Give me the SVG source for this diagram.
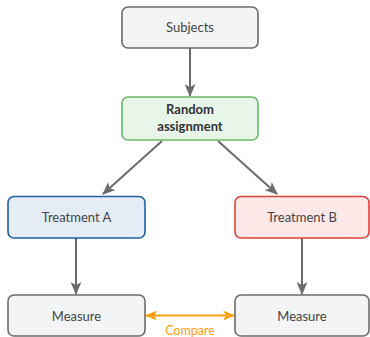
<svg xmlns="http://www.w3.org/2000/svg" width="370" height="337" viewBox="0 0 370 337">
<defs>
<style>
.box{stroke-width:1.6}
.gray{fill:#f3f4f6;stroke:#6b6b6b}
.green{fill:#e8f5e9;stroke:#66bb6a}
.blue{fill:#e4ecf5;stroke:#1e5fa8}
.red{fill:#fde8e7;stroke:#e0413a}
.lbl{font-family:Lato,"Open Sans",sans-serif;font-size:13px;fill:#444;text-anchor:middle}
.bold{font-weight:bold;fill:#333}
.conn{stroke:#6b6b6b;stroke-width:2;fill:none;marker-end:url(#ah)}
.cmp{stroke:#ffa010;stroke-width:2;fill:none;marker-end:url(#ao);marker-start:url(#aos)}
</style>
<marker id="ah" viewBox="0 0 12 10" refX="11" refY="5" markerWidth="13" markerHeight="11" markerUnits="userSpaceOnUse" orient="auto">
<path d="M0,0 L12,5 L0,10 L3,5 Z" fill="#6b6b6b"/>
</marker>
<marker id="ao" viewBox="0 0 12 10" refX="11" refY="5" markerWidth="12" markerHeight="10" markerUnits="userSpaceOnUse" orient="auto">
<path d="M0,0 L12,5 L0,10 L3,5 Z" fill="#ffa010"/>
</marker>
<marker id="aos" viewBox="0 0 12 10" refX="1" refY="5" markerWidth="12" markerHeight="10" markerUnits="userSpaceOnUse" orient="auto">
<path d="M12,0 L0,5 L12,10 L9,5 Z" fill="#ffa010"/>
</marker>
</defs>
<g id="connectors">
<line class="conn" x1="190" y1="48" x2="190" y2="96"/>
<line class="conn" x1="162" y1="141" x2="103" y2="194"/>
<line class="conn" x1="218" y1="141" x2="277" y2="194"/>
<line class="conn" x1="76" y1="238" x2="76" y2="294"/>
<line class="conn" x1="302" y1="238" x2="302" y2="294"/>
<line class="cmp" x1="146" y1="315.5" x2="234" y2="315.5"/>
<text class="lbl" x="190" y="334.5" style="fill:#ffa010;font-size:12.5px">Compare</text>
</g>
<g id="subjects">
<rect class="box gray" x="122" y="7" width="136" height="41" rx="6"/>
<text class="lbl" x="190" y="32">Subjects</text>
</g>
<g id="random">
<rect class="box green" x="122" y="97" width="136" height="43" rx="6"/>
<text class="lbl bold" x="190" y="114">Random</text>
<text class="lbl bold" x="190" y="131">assignment</text>
</g>
<g id="treatA">
<rect class="box blue" x="8" y="196.5" width="137" height="41.5" rx="6"/>
<text class="lbl" x="76.5" y="222">Treatment A</text>
</g>
<g id="treatB">
<rect class="box red" x="235" y="196.5" width="134" height="41.5" rx="6"/>
<text class="lbl" x="302" y="222">Treatment B</text>
</g>
<g id="measureA">
<rect class="box gray" x="8" y="295" width="137" height="41" rx="6"/>
<text class="lbl" x="76.5" y="320.5">Measure</text>
</g>
<g id="measureB">
<rect class="box gray" x="235" y="295" width="134" height="41" rx="6"/>
<text class="lbl" x="302" y="320.5">Measure</text>
</g>
</svg>
